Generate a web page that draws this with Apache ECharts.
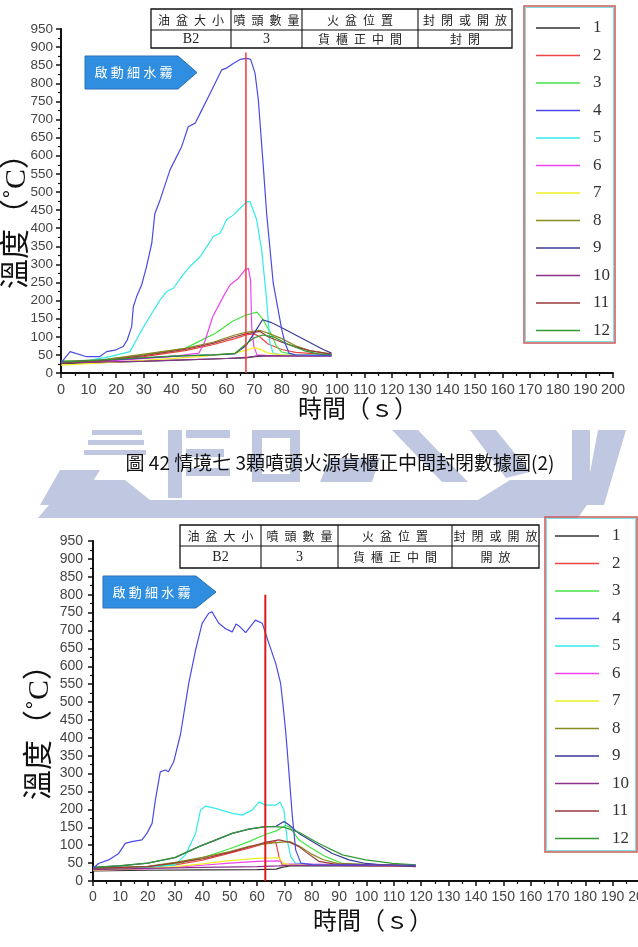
<!DOCTYPE html>
<html><head><meta charset="utf-8">
<script src="https://cdn.jsdelivr.net/npm/echarts@6/dist/echarts.min.js"></script>
<style>html,body{margin:0;padding:0;background:#fff}#c{width:638px;height:947px}</style>
</head><body><div id="c"></div>
<script>
// ---------- DATA ----------
var seriesNames = ['1','2','3','4','5','6','7','8','9','10','11','12'];
var seriesColors = ['#333333','#ee4444','#44e544','#4a4ae6','#33eaea','#ee44ee','#eeee22','#8a8a22','#3a3a99','#8a338a','#993a3a','#339933'];
var xTicks = {min:0, max:200, interval:10};
var yTicks = {min:0, max:950, interval:50};

// Chart 1 (封閉) : [time s, temperature °C]
var c1_s1  = [[0,26],[20,30],[40,35],[60,40],[67,42],[70,45],[75,48],[98,47]];
var c1_s2  = [[0,28],[15,32],[30,45],[45,62],[55,78],[63,95],[67,105],[70,108],[72,100],[75,80],[80,65],[85,57],[98,50]];
var c1_s3  = [[0,32],[15,36],[30,50],[45,68],[52,95],[56,110],[62,142],[67,160],[71,168],[73,150],[76,110],[78,75],[80,58],[85,50],[98,48]];
var c1_s4  = [[0,28],[3.3,59],[9.3,45],[14,45],[16.5,59],[19.6,63],[22.5,73],[24,91],[25.6,128],[26.2,183],[27.4,211],[29.2,243],[31,294],[32.9,359],[34,440],[35.9,478],[39.5,561],[43.7,625],[46.1,680],[48.6,690],[50.4,717],[54,772],[58.2,837],[60,842],[62.4,855],[64.9,866],[67.3,869],[68.7,866],[70.3,828],[71.5,754],[73.3,570],[74.5,441],[76.9,248],[80,119],[81.2,82],[82.6,55],[85,50],[98,48]];
var c1_s5  = [[0,32],[10,35],[17.8,45],[25,59],[28.6,110],[32.2,156],[35.9,202],[38.3,225],[40.7,234],[43.7,266],[46.7,294],[50.4,321],[52.8,349],[55.2,377],[57.6,386],[60,423],[62.4,436],[64.9,455],[67.3,473],[68.5,473],[70.9,423],[72.7,340],[74.5,202],[75.7,82],[76.9,55],[80,50],[98,48]];
var c1_s6  = [[0,30],[20,35],[40,45],[50,55],[52,85],[55,156],[58.8,211],[61.2,243],[64.2,261],[66.7,285],[67.9,289],[68.7,255],[69.1,128],[69.9,73],[71,50],[75,48],[98,47]];
var c1_s7  = [[0,22],[15,28],[30,35],[50,45],[63,55],[68,65],[70,70],[72,66],[75,55],[80,50],[98,48]];
var c1_s8  = [[0,32],[15,36],[30,52],[45,68],[55,85],[63,105],[67,112],[72,118],[75,110],[80,95],[85,75],[90,62],[98,52]];
var c1_s9  = [[0,30],[20,37],[40,46],[55,50],[63,53],[67,75],[70,110],[73,147],[76,140],[80,125],[85,105],[90,85],[95,65],[98,55]];
var c1_s10 = [[0,28],[30,33],[60,40],[68,44],[72,48],[98,47]];
var c1_s11 = [[0,30],[15,34],[30,48],[45,65],[55,82],[63,100],[67,108],[72,115],[75,100],[80,85],[85,72],[90,62],[98,52]];
var c1_s12 = [[0,30],[20,38],[40,47],[55,50],[63,54],[67,80],[70,97],[73,105],[77,100],[82,80],[88,62],[93,53],[98,50]];
var c1_mist = [[67,0],[67,885]];

// Chart 2 (開放)
var c2_s1  = [[0,28],[20,30],[40,31],[60,32],[67,33],[69,38],[72,42],[118,42]];
var c2_s2  = [[0,33],[20,38],[30,45],[40,58],[50,78],[57,92],[63,105],[66.8,110],[68,68],[69.2,45],[75,44],[118,42]];
var c2_s3  = [[0,35],[20,40],[30,48],[40,65],[50,90],[57,110],[63,130],[67,140],[70.4,156],[72,150],[75.3,115],[79,96],[85.1,68],[91.2,49],[100,45],[118,43]];
var c2_s4  = [[0,35],[2,49],[5.7,59],[9.4,77],[11.8,105],[14.2,110],[17.9,115],[19.7,133],[21.6,161],[22.8,226],[24.6,305],[26.4,310],[27.6,305],[29.5,333],[32,410],[35,552],[37.5,645],[39.9,720],[42.3,748],[43.5,752],[46,720],[48.5,705],[50.9,696],[52.3,718],[53.5,712],[55.8,694],[59.4,729],[61.9,720],[64.3,664],[66.8,608],[68.6,552],[69.5,490],[70.4,422],[71,366],[72.9,180],[74.1,87],[76,50],[80,46],[118,44]];
var c2_s5  = [[0,36],[20,38],[30,45],[33.8,73],[37.5,133],[39.3,198],[41.1,209],[44.8,203],[50.9,189],[54.5,184],[58.2,198],[60.7,221],[63.1,212],[66.8,212],[68.4,221],[69.8,198],[71,115],[72.3,68],[74,50],[80,46],[118,44]];
var c2_s6  = [[0,30],[20,34],[30,38],[40,44],[50,50],[60,55],[68,56],[70,48],[118,44]];
var c2_s7  = [[0,30],[20,35],[30,40],[40,48],[50,57],[60,63],[68,65],[69.5,50],[72,45],[118,43]];
var c2_s8  = [[0,36],[20,41],[30,52],[40,66],[50,82],[57,97],[63,104],[68,108],[72,110],[76,95],[80,75],[84,60],[90,48],[118,44]];
var c2_s9  = [[0,38],[10,42],[20,50],[30,65],[38.7,96],[45,115],[50.9,133],[57,145],[63.1,152],[66.8,152],[69.8,166],[71.6,157],[75.3,133],[81.4,105],[87.5,77],[93.6,59],[99.7,49],[105.8,45],[118,40]];
var c2_s10 = [[0,32],[20,35],[40,38],[60,40],[68,42],[72,44],[118,42]];
var c2_s11 = [[0,35],[20,40],[30,50],[40,62],[50,80],[57,95],[63,108],[68,115],[72,108],[75.3,96],[78,80],[82.6,55],[88,48],[118,43]];
var c2_s12 = [[0,38],[10,43],[20,50],[30,66],[38.7,96],[50.9,133],[57,145],[63.1,152],[66.8,152],[70,150],[75.3,136],[82.6,105],[91.2,73],[99.7,59],[109.5,49],[118,45]];
var c2_mist = [[63,0],[63,800]];

var tableHeader = ['油盆大小','噴頭數量','火盆位置','封閉或開放'];
var table1Row = ['B2','3','貨櫃正中間','封閉'];
var table2Row = ['B2','3','貨櫃正中間','開放'];
var calloutText = '啟動細水霧';
var yTitle = '溫度（˚C）';
var xTitle = '時間（ｓ）';
var caption = '圖 42 情境七 3顆噴頭火源貨櫃正中間封閉數據圖(2)';

// ---------- BUILD ----------
var c1 = [c1_s1,c1_s2,c1_s3,c1_s4,c1_s5,c1_s6,c1_s7,c1_s8,c1_s9,c1_s10,c1_s11,c1_s12];
var c2 = [c2_s1,c2_s2,c2_s3,c2_s4,c2_s5,c2_s6,c2_s7,c2_s8,c2_s9,c2_s10,c2_s11,c2_s12];
var series = [];
function addSet(arr, idx){
  arr.forEach(function(d,i){
    series.push({type:'line', name:seriesNames[i], xAxisIndex:idx, yAxisIndex:idx, data:d,
      symbol:'none', showSymbol:false, color:seriesColors[i],
      lineStyle:{width:1.2, color:seriesColors[i]}, z: (i===3?4:3)});
  });
}
addSet(c1,0); addSet(c2,1);
series.push({type:'line', name:'mist1', xAxisIndex:0, yAxisIndex:0, data:c1_mist, symbol:'none', lineStyle:{width:1.5,color:'#f03a3a'}, color:'#f03a3a', z:5});
series.push({type:'line', name:'mist2', xAxisIndex:1, yAxisIndex:1, data:c2_mist, symbol:'none', lineStyle:{width:2,color:'#dd1a1a'}, color:'#dd1a1a', z:5});

function xAx(idx, fs){
  return {type:'value', gridIndex:idx, min:xTicks.min, max:xTicks.max, interval:xTicks.interval,
    axisLine:{show:true, onZero:false, lineStyle:{color:'#111', width:2}},
    axisTick:{show:true, inside:false, length:5, lineStyle:{color:'#111', width:1.5}},
    minorTick:{show:true, splitNumber:2, length:3, lineStyle:{color:'#111', width:1.2}},
    splitLine:{show:false},
    axisLabel:{fontFamily:'Liberation Sans', fontSize:fs, color:'#444', margin:9, hideOverlap:false, showMaxLabel:true}};
}
function yAx(idx, fs, m){
  return {type:'value', gridIndex:idx, min:yTicks.min, max:yTicks.max, interval:yTicks.interval,
    axisLine:{show:true, lineStyle:{color:'#111', width:2}},
    axisTick:{show:true, inside:false, length:5, lineStyle:{color:'#111', width:1.5}},
    minorTick:{show:true, splitNumber:2, length:3, lineStyle:{color:'#111', width:1.2}},
    splitLine:{show:false},
    axisLabel:{fontFamily:'Liberation Sans', fontSize:fs, color:'#444', margin:m}};
}

var CJK = '"Noto Sans CJK TC"';
var g = [];
// watermark (decorative logo)
var wm = '#bfc8e0';
[[92,430,50,5],[88,440,56,5],[84,450,62,5],[168,430,14,68],[186,430,44,8],[186,449,38,8],[186,468,44,8],[252,430,48,8],[252,430,10,52],[290,430,10,52],[252,474,48,8],[572,430,18,60]].forEach(function(r){
  g.push({type:'rect', shape:{x:r[0],y:r[1],width:r[2],height:r[3]}, style:{fill:wm}, z:0});
});
[[[38,518],[578,518],[604,480],[510,480],[478,500],[150,500],[125,480],[70,480]],
 [[60,470],[100,470],[78,505],[40,505]],
 [[392,430],[418,430],[468,482],[442,482]],
 [[470,430],[496,430],[530,472],[506,478]],
 [[598,430],[626,430],[604,505],[584,505]],
 [[330,458],[380,458],[372,482],[320,482]]].forEach(function(p){
  g.push({type:'polygon', shape:{points:p}, style:{fill:wm}, z:0});
});
// tables
function table(x0,y0,w,h,ymid,cols,row){
  g.push({type:'rect', shape:{x:x0,y:y0,width:w,height:h}, style:{fill:'#fff',stroke:'#111',lineWidth:1.3}, z:10});
  g.push({type:'line', shape:{x1:x0,y1:ymid,x2:x0+w,y2:ymid}, style:{stroke:'#111',lineWidth:1.1}, z:11});
  var xs=[x0].concat(cols).concat([x0+w]);
  cols.forEach(function(cx){ g.push({type:'line', shape:{x1:cx,y1:y0,x2:cx,y2:y0+h}, style:{stroke:'#111',lineWidth:1.1}, z:11}); });
  for(var i=0;i<4;i++){
    var cx=(xs[i]+xs[i+1])/2;
    g.push({type:'text', x:cx, y:(y0+ymid)/2+0.5, z:12, style:{text:tableHeader[i].split('').join('\u2002'), fill:'#222', font:'12px '+CJK, textAlign:'center', textVerticalAlign:'middle'}});
    var isLat = /^[A-Za-z0-9]+$/.test(row[i]);
    g.push({type:'text', x:cx, y:(ymid+y0+h)/2+0.5, z:12, style:{text:isLat?row[i]:row[i].split('').join('\u2002'), fill:'#222', font:(isLat?'14px "Liberation Serif"':'12px '+CJK), textAlign:'center', textVerticalAlign:'middle'}});
  }
}
table(151,9,361,39,30,[231,302,418],table1Row);
table(180,525,359,43,546,[261,338,452],table2Row);
// callouts
function callout(x0,y0,x1,tip,y1){
  var ym=(y0+y1)/2;
  g.push({type:'polygon', shape:{points:[[x0,y0],[x1,y0],[tip,ym],[x1,y1],[x0,y1]]}, style:{fill:'#2f8ee0',stroke:'#2a70b8',lineWidth:1}, z:10});
  g.push({type:'text', x:(x0+x1)/2+2, y:ym, z:11, style:{text:calloutText.split('').join('\u2005'), fill:'#fff', font:'13px '+CJK, textAlign:'center', textVerticalAlign:'middle'}});
}
callout(85,56,178,197,89);
callout(103,576,196,216,608);
// legend boxes
function lbox(x,y,w,h){
  g.push({type:'rect', shape:{x:x,y:y,width:w,height:h}, style:{fill:'none',stroke:'#c85a5a',lineWidth:1.5}, z:10});
  g.push({type:'rect', shape:{x:x+1.5,y:y+1.5,width:w-3,height:h-3}, style:{fill:'none',stroke:'#80dede',lineWidth:1}, z:10});
}
lbox(524,6,91,337);
lbox(545,517,92,335);
// axis titles
function ttl(x,y,text,fs,rot){
  g.push({type:'text', x:x, y:y, rotation:rot||0, z:10, style:{text:text, fill:'#111', font:fs+'px "Liberation Serif", '+CJK, textAlign:'center', textVerticalAlign:'middle'}});
}
ttl(17,214,yTitle,30,Math.PI/2);
ttl(40,725,yTitle,30,Math.PI/2);
ttl(358,411,xTitle,24);
ttl(373,923,xTitle,24);
// caption
g.push({type:'text', x:340, y:463, z:10, style:{text:caption, fill:'#111', font:'19px '+CJK, textAlign:'center', textVerticalAlign:'middle'}});

var legendBase = {data:seriesNames, orient:'vertical', icon:'rect', itemWidth:44, itemHeight:1.6, itemGap:9.5, selectedMode:false,
  textStyle:{fontFamily:'Liberation Serif', fontSize:17, color:'#333', lineHeight:18, padding:[0,0,0,8]}};
var option = {
  animation:false,
  backgroundColor:'#fff',
  grid:[{left:61, top:29, width:552, height:344, containLabel:false, outerBoundsMode:'none'},
        {left:93, top:541, width:547, height:340, containLabel:false, outerBoundsMode:'none'}],
  xAxis:[xAx(0,14.5), xAx(1,14)],
  yAxis:[yAx(0,13.5,8), yAx(1,14,10)],
  legend:[Object.assign({left:531, top:14}, legendBase), Object.assign({left:550, top:522}, legendBase)],
  series:series,
  graphic:{elements:g}
};
var chart = echarts.init(document.getElementById('c'));
chart.setOption(option);
</script></body></html>
